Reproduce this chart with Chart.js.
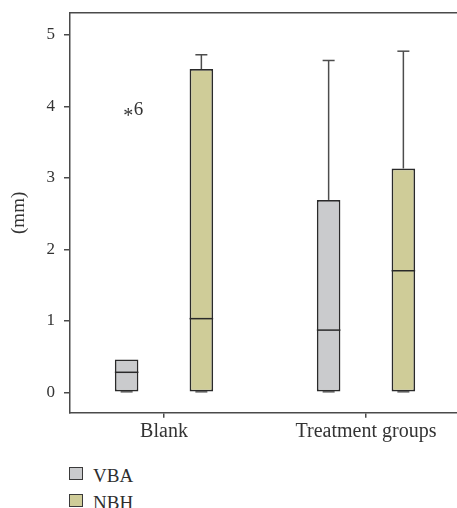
<!DOCTYPE html>
<html>
<head>
<meta charset="utf-8">
<script src="https://cdn.jsdelivr.net/npm/chart.js@4/dist/chart.umd.min.js"></script>
<style>
  html, body { margin: 0; padding: 0; background: #fff; overflow: hidden; }
  #wrap { position: absolute; left: 0; top: 0; width: 462px; height: 450px; }
  .key { position: absolute; left: 69px; font: 19px "Liberation Serif", serif; line-height: 19px; color: #2e2e2e; }
  .key span.sw { position: absolute; left: 0; width: 12px; height: 11px; border: 1.5px solid #3a3a3a; }
  .key span.lb { position: absolute; left: 24px; top: 0; white-space: nowrap; }
</style>
</head>
<body>
<div id="wrap"><canvas id="boxChart"></canvas></div>
<div class="key" style="top:466px"><span class="sw" style="top:1px;background:#cacbcd"></span><span class="lb">VBA</span></div>
<div class="key" style="top:493px"><span class="sw" style="top:1px;background:#cfcc98"></span><span class="lb">NBH</span></div>
<script>
  // groups on the x axis
  const categories = ["Blank", "Treatment groups"];
  const seriesNames = ["VBA", "NBH"];

  // box statistics (mm)
  const vbaMin = [0, 0];
  const vbaQ1 = [0, 0];
  const vbaMedian = [0.28, 0.87];
  const vbaQ3 = [0.46, 2.69];
  const vbaMax = [0.46, 4.64];

  const nbhMin = [0, 0];
  const nbhQ1 = [0, 0];
  const nbhMedian = [1.03, 1.70];
  const nbhQ3 = [4.52, 3.13];
  const nbhMax = [4.72, 4.77];

  // outlier: series index, category index, value, case label
  const outlierSeries = [0];
  const outlierGroup = [0];
  const outlierValue = [3.90];
  const outlierLabel = ["6"];

  const yTicks = [0, 1, 2, 3, 4, 5];

  const serif = "'Liberation Serif', 'Times New Roman', serif";
  const ink = "#333333";
  const axisColor = "#4a4a4a";

  const stats = [
    { min: vbaMin, q1: vbaQ1, med: vbaMedian, q3: vbaQ3, max: vbaMax },
    { min: nbhMin, q1: nbhQ1, med: nbhMedian, q3: nbhQ3, max: nbhMax },
  ];

  function boxData(s) {
    return categories.map((c, i) => ({ x: i, y: [s.q1[i], s.q3[i]] }));
  }

  // medians, whiskers and the outlier, placed from the bar elements + y scale
  const boxExtras = {
    id: "boxExtras",
    afterDatasetsDraw(chart) {
      const ctx = chart.ctx;
      const y = chart.scales.y;
      ctx.save();
      stats.forEach((s, d) => {
        const meta = chart.getDatasetMeta(d);
        meta.data.forEach((bar, i) => {
          const half = bar.width / 2;
          const cap = 6;
          ctx.strokeStyle = "#4d4d4d";
          ctx.lineWidth = 1.5;
          if (s.max[i] > s.q3[i]) {
            ctx.beginPath();
            ctx.moveTo(bar.x, y.getPixelForValue(s.q3[i]));
            ctx.lineTo(bar.x, y.getPixelForValue(s.max[i]));
            ctx.stroke();
            ctx.beginPath();
            ctx.moveTo(bar.x - cap, y.getPixelForValue(s.max[i]));
            ctx.lineTo(bar.x + cap, y.getPixelForValue(s.max[i]));
            ctx.stroke();
          }
          // lower cap sits on the box edge
          ctx.strokeStyle = "#555555";
          ctx.lineWidth = 1.5;
          ctx.beginPath();
          ctx.moveTo(bar.x - cap, y.getPixelForValue(s.min[i]) - 0.5);
          ctx.lineTo(bar.x + cap, y.getPixelForValue(s.min[i]) - 0.5);
          ctx.stroke();
          // median
          ctx.strokeStyle = "#2a2a2a";
          ctx.lineWidth = 1.5;
          ctx.beginPath();
          ctx.moveTo(bar.x - half, y.getPixelForValue(s.med[i]));
          ctx.lineTo(bar.x + half, y.getPixelForValue(s.med[i]));
          ctx.stroke();
        });
      });
      outlierValue.forEach((v, k) => {
        const bar = chart.getDatasetMeta(outlierSeries[k]).data[outlierGroup[k]];
        const py = y.getPixelForValue(v);
        ctx.fillStyle = ink;
        ctx.textAlign = "center";
        ctx.textBaseline = "middle";
        ctx.font = "20px " + serif;
        ctx.fillText("*", bar.x + 1.5, py + 3);
        ctx.textAlign = "left";
        ctx.textBaseline = "alphabetic";
        ctx.font = "19px " + serif;
        ctx.fillText(outlierLabel[k], bar.x + 7, py + 2);
      });
      ctx.restore();
    },
  };

  new Chart(document.getElementById("boxChart"), {
    type: "bar",
    data: {
      datasets: [
        {
          label: seriesNames[0],
          data: boxData(stats[0]),
          backgroundColor: "#cacbcd",
          borderColor: "#2a2a2a",
          borderWidth: 1.7,
          borderSkipped: false,
        },
        {
          label: seriesNames[1],
          data: boxData(stats[1]),
          backgroundColor: "#cfcc98",
          borderColor: "#2a2a2a",
          borderWidth: 1.7,
          borderSkipped: false,
        },
      ],
    },
    options: {
      responsive: true,
      maintainAspectRatio: false,
      animation: false,
      categoryPercentage: 0.74,
      barPercentage: 0.315,
      layout: { padding: { top: 13, left: 0, right: 0, bottom: 0 } },
      plugins: { legend: { display: false }, tooltip: { enabled: false } },
      scales: {
        x: {
          type: "linear",
          position: "bottom",
          min: -94 / 202,
          max: 298 / 202,
          offset: false,
          afterBuildTicks: (s) => { s.ticks = categories.map((c, i) => ({ value: i })); },
          afterFit: (s) => { s.height = 37.3; s.paddingLeft = 0; s.paddingRight = 0; },
          ticks: {
            autoSkip: false,
            maxRotation: 0,
            padding: 2,
            color: ink,
            font: { family: serif, size: 20 },
            callback: (v) => categories[v],
          },
          grid: { offset: false, drawOnChartArea: false, drawTicks: true, tickLength: 5, color: axisColor, lineWidth: 1.5 },
          border: { display: true, color: axisColor, width: 1.5 },
        },
        xTop: {
          type: "linear",
          position: "top",
          min: -94 / 202,
          max: 298 / 202,
          afterFit: (s) => { s.height = 0; s.paddingLeft = 0; s.paddingRight = 0; },
          ticks: { display: false },
          grid: { display: false },
          border: { display: true, color: axisColor, width: 1.5 },
        },
        y: {
          min: -0.285,
          max: 5.304,
          afterBuildTicks: (s) => { s.ticks = yTicks.map((v) => ({ value: v })); },
          afterFit: (s) => { s.width = 70; s.paddingTop = 0; s.paddingBottom = 0; },
          ticks: {
            padding: 9,
            color: ink,
            font: { family: serif, size: 17 },
          },
          grid: { drawOnChartArea: false, drawTicks: true, tickLength: 6, color: axisColor, lineWidth: 1.5 },
          border: { display: true, color: axisColor, width: 1.5 },
          title: {
            display: true,
            text: "(mm)",
            color: ink,
            font: { family: serif, size: 19 },
            padding: { top: 8, bottom: 0 },
          },
        },
      },
    },
    plugins: [boxExtras],
  });
</script>
</body>
</html>
